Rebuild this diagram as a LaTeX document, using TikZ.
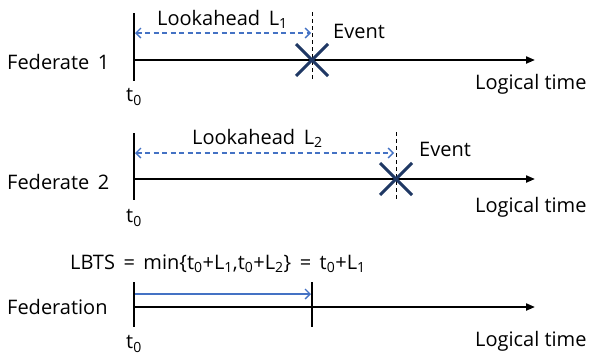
\documentclass[tikz,border=0pt]{standalone}
\usepackage{fontspec}
\setmainfont{Open Sans}
\usetikzlibrary{arrows.meta}
\definecolor{lablue}{HTML}{4472C4}
\definecolor{navyx}{HTML}{1F3864}
\tikzset{
  lbl/.style={inner sep=0pt, font=\fontsize{20}{24}\selectfont},
  tick/.style={line width=2.6pt},
  axis/.style={line width=2pt, -{Triangle[length=9pt,width=7pt]}},
  lookarrow/.style={lablue, line width=1.3pt, dash pattern=on 5pt off 3.5pt, {Straight Barb[length=5pt,width=10pt]}-{Straight Barb[length=5pt,width=10pt]}},
  lbtsarrow/.style={lablue, line width=1.3pt, -{Straight Barb[length=5pt,width=10pt]}},
  evline/.style={line width=1pt, dash pattern=on 4pt off 3pt},
  cross/.style={navyx, line width=3pt},
  thinv/.style={line width=1.3pt}
}
\begin{document}
\begin{tikzpicture}[x=1pt,y=-1pt]
\useasboundingbox (0,0) rectangle (593,354);
% ---------- Federate 1
\coordinate (a1top) at (134,13);
\coordinate (a1bot) at (134,81);
\coordinate (a1s) at (134,60);
\coordinate (a1e) at (535,60);
\coordinate (l1s) at (135,33);
\coordinate (l1e) at (311,33);
\coordinate (e1top) at (312,12);
\coordinate (e1bot) at (312,80);
\coordinate (x1a) at (296,44);
\coordinate (x1b) at (328,76);
\coordinate (x1c) at (296,76);
\coordinate (x1d) at (328,44);
\draw[tick] (a1top) -- (a1bot);
\draw[axis] (a1s) -- (a1e);
\draw[lookarrow] (l1s) -- (l1e);
\draw[evline] (e1top) -- (e1bot);
\draw[cross] (x1a) -- (x1b);
\draw[cross] (x1c) -- (x1d);
\node[lbl, anchor=west] (fed1) at (7,62) {Federate\, 1};
\node[lbl] (t01) at (134,97) {t\textsubscript{0}};
\node[lbl, anchor=west] (look1) at (157,19) {Lookahead\, L\textsubscript{1}};
\node[lbl, anchor=west] (ev1) at (333,31) {Event};
\node[lbl, anchor=west] (lt1) at (475,84) {Logical time};
% ---------- Federate 2
\coordinate (a2top) at (134,133);
\coordinate (a2bot) at (134,200);
\coordinate (a2s) at (134,179);
\coordinate (a2e) at (535,179);
\coordinate (l2s) at (135,153);
\coordinate (l2e) at (394,153);
\coordinate (e2top) at (396,132);
\coordinate (e2bot) at (396,199);
\coordinate (x2a) at (380,163);
\coordinate (x2b) at (412,195);
\coordinate (x2c) at (380,195);
\coordinate (x2d) at (412,163);
\draw[tick] (a2top) -- (a2bot);
\draw[axis] (a2s) -- (a2e);
\draw[lookarrow] (l2s) -- (l2e);
\draw[evline] (e2top) -- (e2bot);
\draw[cross] (x2a) -- (x2b);
\draw[cross] (x2c) -- (x2d);
\node[lbl, anchor=west] (fed2) at (7,182) {Federate\, 2};
\node[lbl] (t02) at (134,218) {t\textsubscript{0}};
\node[lbl, anchor=west] (look2) at (192,138) {Lookahead\, L\textsubscript{2}};
\node[lbl, anchor=west] (ev2) at (419,149) {Event};
\node[lbl, anchor=west] (lt2) at (475,207) {Logical time};
% ---------- Federation
\coordinate (a3top) at (134,282);
\coordinate (a3bot) at (134,327);
\coordinate (a3s) at (134,307);
\coordinate (a3e) at (535,307);
\coordinate (b3s) at (135,294);
\coordinate (b3e) at (311,294);
\coordinate (v3top) at (312,282);
\coordinate (v3bot) at (312,327);
\draw[tick] (a3top) -- (a3bot);
\draw[axis] (a3s) -- (a3e);
\draw[lbtsarrow] (b3s) -- (b3e);
\draw[thinv] (v3top) -- (v3bot);
\node[lbl, anchor=west] (fedn) at (7,307) {Federation};
\node[lbl] (t03) at (134,344) {t\textsubscript{0}};
\node[lbl, anchor=west] (lbts) at (70,264) {LBTS\, =\, min\{t\textsubscript{0}+L\textsubscript{1},t\textsubscript{0}+L\textsubscript{2}\}\, =\, t\textsubscript{0}+L\textsubscript{1}};
\node[lbl, anchor=west] (lt3) at (475,341) {Logical time};
\end{tikzpicture}
\end{document}
